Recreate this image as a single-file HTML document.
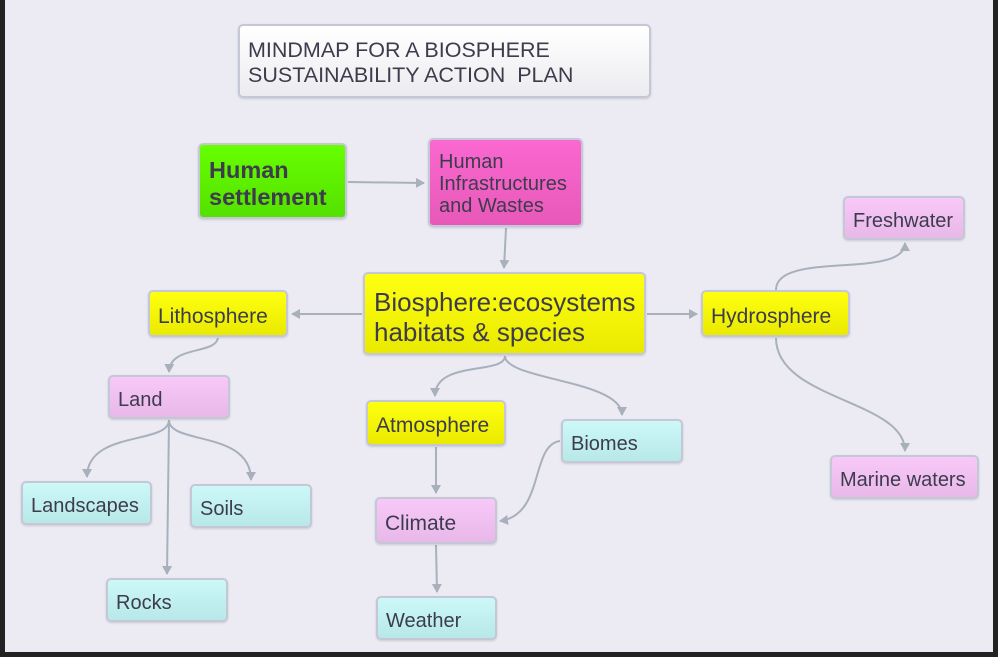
<!DOCTYPE html>
<html><head><style>
body{margin:0;width:998px;height:657px;background:#222;overflow:hidden;font-family:"Liberation Sans",sans-serif}
#c{position:absolute;left:5px;top:0;width:988px;height:652px;background:#ecebf4}
.n{position:absolute;box-sizing:border-box;border:2px solid #c4c8d6;border-radius:5px;color:#3c3c4c;font-size:21px;padding-left:8px;padding-top:6px;display:flex;align-items:center;box-shadow:0 1px 2px rgba(0,0,0,.15)}
.y{background:linear-gradient(#ffff10,#eaea00)}
.p{background:linear-gradient(#f8c8f8,#e8b8e8)}
.c{background:linear-gradient(#ccf8f8,#b8e8e8)}
svg{position:absolute;left:0;top:0}
</style></head><body>
<div id="c"></div>
<svg width="998" height="657"><defs><marker id="a" markerWidth="10" markerHeight="10" refX="8" refY="5" orient="auto" markerUnits="userSpaceOnUse"><path d="M0,0L9,5L0,10z" fill="#a8b0bc"/></marker></defs>
<g fill="none" stroke="#a8b0bc" stroke-width="2" marker-end="url(#a)">
<path d="M348,182 L424,183"/>
<path d="M506,228 L504,268"/>
<path d="M362,314 L292,314"/>
<path d="M647,314 L697,314"/>
<path d="M218,338 C215,355 170,345 169,372"/>
<path d="M505,356 C505,375 435,360 435,396"/>
<path d="M505,356 C505,380 622,380 622,415"/>
<path d="M776,290 C776,250 905,280 905,243"/>
<path d="M776,338 C776,400 905,400 905,451"/>
<path d="M169,420 C169,445 87,430 87,477"/>
<path d="M169,420 C169,445 251,430 251,480"/>
<path d="M169,420 L167,574"/>
<path d="M436,447 L436,493"/>
<path d="M560,441 C530,445 545,515 500,521"/>
<path d="M436,545 L437,592"/>
</g></svg>
<div class="n" style="left:238px;top:24px;width:413px;height:74px;background:linear-gradient(#fff,#ececf0);font-size:21.5px;line-height:25px;padding-top:4px">MINDMAP FOR A BIOSPHERE<br>SUSTAINABILITY ACTION&nbsp; PLAN</div>
<div class="n" style="left:198px;top:143px;width:149px;height:76px;background:linear-gradient(#66ff00,#55e000);font-weight:bold;font-size:23.5px;line-height:27px;padding-left:9px">Human<br>settlement</div>
<div class="n" style="left:428px;top:138px;width:155px;height:89px;background:linear-gradient(#fa68d0,#e858b8);font-size:20px;line-height:22px;padding-left:9px;padding-top:2px">Human<br>Infrastructures<br>and Wastes</div>
<div class="n y" style="left:363px;top:272px;width:283px;height:83px;font-size:26px;line-height:30px;padding-left:9px">Biosphere:ecosystems<br>habitats &amp; species</div>
<div class="n y" style="left:148px;top:290px;width:140px;height:47px">Lithosphere</div>
<div class="n y" style="left:701px;top:290px;width:149px;height:47px">Hydrosphere</div>
<div class="n p" style="left:843px;top:196px;width:122px;height:44px;font-size:20px">Freshwater</div>
<div class="n p" style="left:830px;top:455px;width:149px;height:44px;font-size:20px">Marine waters</div>
<div class="n p" style="left:108px;top:375px;width:122px;height:44px;font-size:20px">Land</div>
<div class="n y" style="left:366px;top:400px;width:140px;height:46px">Atmosphere</div>
<div class="n c" style="left:561px;top:419px;width:122px;height:44px;font-size:20px">Biomes</div>
<div class="n c" style="left:21px;top:481px;width:131px;height:44px;font-size:20px">Landscapes</div>
<div class="n c" style="left:190px;top:484px;width:122px;height:44px;font-size:20px">Soils</div>
<div class="n c" style="left:106px;top:578px;width:122px;height:44px;font-size:20px">Rocks</div>
<div class="n p" style="left:375px;top:497px;width:122px;height:47px">Climate</div>
<div class="n c" style="left:376px;top:596px;width:121px;height:44px;font-size:20px">Weather</div>
</body></html>
